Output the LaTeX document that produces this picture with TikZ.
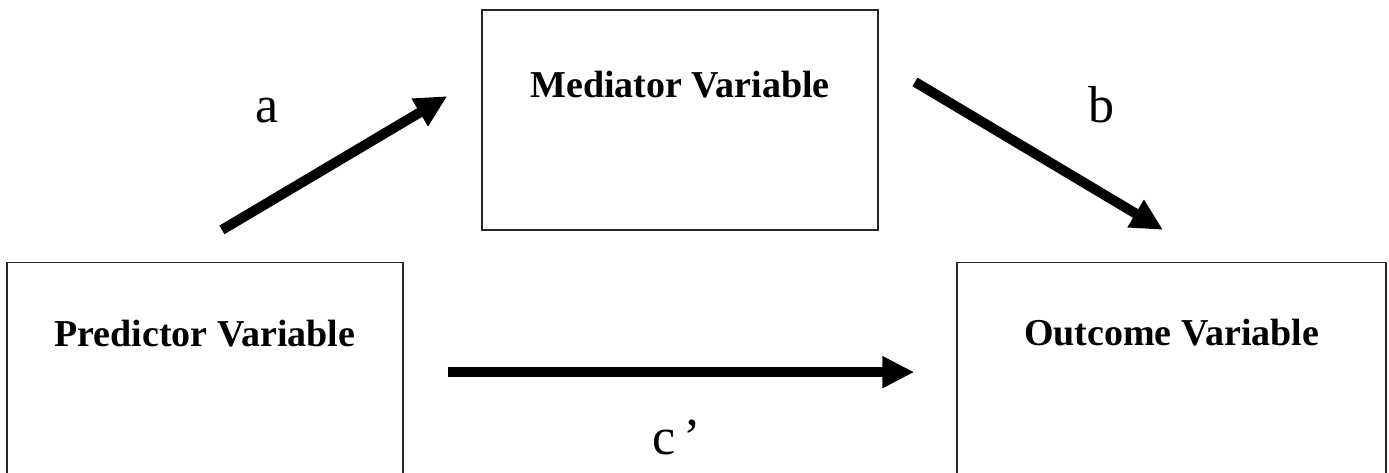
\documentclass[tikz,border=0pt]{standalone}
\usepackage{fontspec}
\setmainfont{Liberation Serif}
\usetikzlibrary{arrows.meta,positioning,calc}

\begin{document}
\begin{tikzpicture}[
  varbox/.style={draw=black!85, line width=0.7pt, minimum width=6.96cm,
                 minimum height=3.87cm, inner sep=0pt},
  vname/.style={font=\fontsize{19}{23}\selectfont\bfseries, inner sep=0pt},
  coef/.style={font=\fontsize{26}{30}\selectfont, inner sep=0pt},
  ar/.style={-{Triangle[length=16pt, width=15pt]}, line width=5pt},
]
\useasboundingbox (0,0) rectangle (24.41,8.31);

%% ---------- boxes ----------
\node[varbox] (med) at (11.95,6.20) {};
\node[varbox] (pred) at (3.60,1.76) {};
\node[varbox, minimum width=7.54cm] (out) at (20.59,1.76) {};

\node[vname, anchor=base] (medtxt) at ($(med.north)+(0,-1.55)$) {Mediator Variable};
\node[vname, anchor=base] (predtxt) at ($(pred.north)+(0,-1.48)$) {Predictor Variable};
\node[vname, anchor=base] (outtxt) at ($(out.north)+(0,-1.47)$) {Outcome Variable};

%% ---------- paths ----------
\coordinate (a0) at (3.90,4.27);
\coordinate (a1) at (7.86,6.62);
\coordinate (b0) at (16.08,6.87);
\coordinate (b1) at (20.44,4.27);
\coordinate (c0) at ($(pred.east)+(0.78,0.01)$);
\coordinate (c1) at ($(out.west)+(-0.74,0.01)$);

\draw[ar] (a0) -- (a1);
\draw[ar] (b0) -- (b1);
\draw[ar] (c0) -- (c1);

\node[coef, anchor=base] (la) at (4.69,6.15) {a};
\node[coef, anchor=base] (lb) at (19.35,6.15) {b};
\node[coef, anchor=base] (lc) at (11.89,0.32) {c\,’};

\end{tikzpicture}
\end{document}
